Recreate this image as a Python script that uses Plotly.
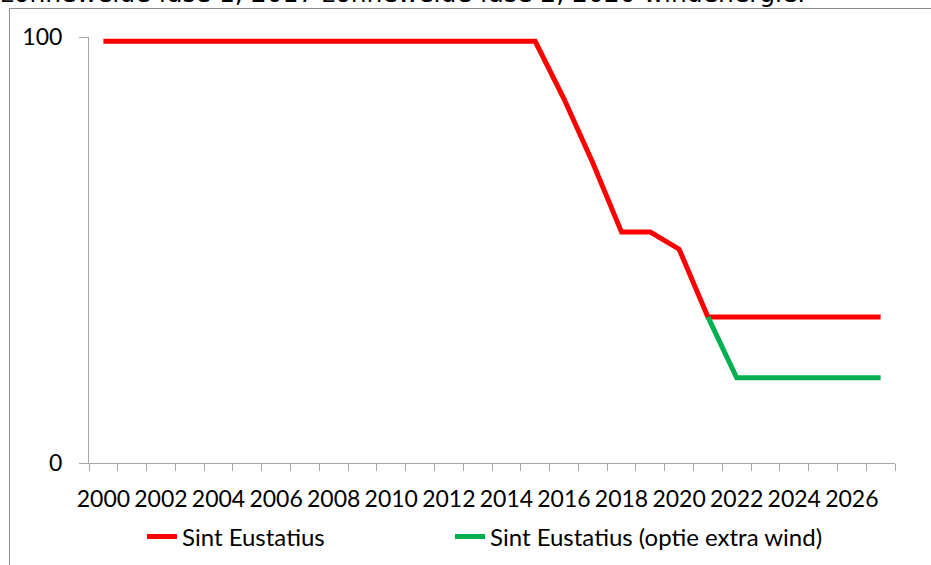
import plotly.graph_objects as go

# ---- data ----
years = list(range(2000, 2028))
sint_eustatius = [99, 99, 99, 99, 99, 99, 99, 99, 99, 99, 99, 99, 99, 99, 99, 99,
                  85.5, 70.5, 54.2, 54.2, 50.2, 34.3, 34.3, 34.3, 34.3, 34.3, 34.3, 34.3]
extra_wind = [None] * 21 + [34.3, 20.0, 20.0, 20.0, 20.0, 20.0, 20.0]
x_ticks = list(range(2000, 2027, 2))
y_ticks = [0, 100]
series_names = ["Sint Eustatius", "Sint Eustatius (optie extra wind)"]
header_text = "zonneweide fase 1, 2017 zonneweide fase 2, 2020 windenergie."

W, H = 931, 565
L, R, T, B = 89, 36, 37, 102
pw, ph = W - L - R, H - T - B

def px_x(p):
    return (p - L) / pw

def px_y(p):
    return (H - B - p) / ph

AX = "#A6A6A6"
FONT = "Lato"

fig = go.Figure()
fig.add_trace(go.Scatter(x=years, y=sint_eustatius, mode="lines", name=series_names[0],
                         line=dict(color="#FF0000", width=5), legend="legend"))
fig.add_trace(go.Scatter(x=years, y=extra_wind, mode="lines", name=series_names[1],
                         line=dict(color="#00B050", width=5), legend="legend2"))

leg_common = dict(orientation="h", xanchor="left", yanchor="middle",
                  font=dict(family=FONT, size=24, color="black"),
                  bgcolor="rgba(0,0,0,0)")

fig.update_layout(
    width=W, height=H,
    margin=dict(l=L, r=R, t=T, b=B, autoexpand=False),
    paper_bgcolor="white", plot_bgcolor="white",
    font=dict(family=FONT, size=23, color="black"),
    showlegend=True,
    legend=dict(x=px_x(142), y=px_y(537), **leg_common),
    legend2=dict(x=px_x(450), y=px_y(537), **leg_common),
    xaxis=dict(range=[1999.5, 2027.5], tickmode="array", tickvals=x_ticks,
               ticktext=[str(v) for v in x_ticks], ticks="", showgrid=False,
               showline=True, linecolor=AX, linewidth=1, zeroline=False,
               ticklabelstandoff=15, automargin=False,
               tickfont=dict(family=FONT, size=23, color="black"),
               minor=dict(tickmode="linear", tick0=1999.5, dtick=1, ticks="outside",
                          ticklen=7, tickcolor=AX, tickwidth=1, showgrid=False)),
    yaxis=dict(range=[0, 100], tickmode="array", tickvals=y_ticks, ticks="outside",
               ticklen=9, tickcolor=AX, tickwidth=1, showgrid=True, gridcolor=AX,
               gridwidth=1, showline=True, linecolor=AX, linewidth=1, zeroline=False,
               ticklabelstandoff=12, automargin=False,
               tickfont=dict(family=FONT, size=23, color="black")),
)

# outer chart frame (partially cropped)
fig.add_shape(type="rect", xref="paper", yref="paper",
              x0=px_x(9.5), x1=px_x(940), y0=px_y(580), y1=px_y(8.5),
              line=dict(color="#8C8C8C", width=1), fillcolor="rgba(0,0,0,0)", layer="above")

# cropped header text line
fig.add_annotation(text=header_text, xref="paper", yref="paper", x=px_x(-1), y=px_y(10),
                   xanchor="left", yanchor="bottom", showarrow=False,
                   font=dict(family="DejaVu Sans", size=25, color="black"))

fig.write_html("out.html", config={"displayModeBar": False},
               post_script="document.body.style.margin='0px';")
